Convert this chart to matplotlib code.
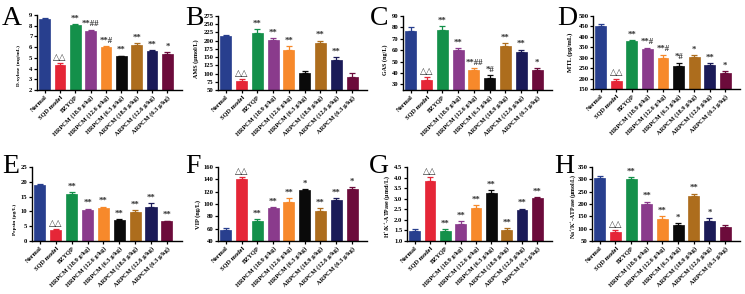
import matplotlib
matplotlib.use("Agg")
import matplotlib.pyplot as plt
import numpy as np

plt.rcParams["font.family"] = ["Liberation Serif", "DejaVu Sans"]
plt.rcParams["font.weight"] = "bold"
plt.rcParams["mathtext.fontset"] = "custom"
plt.rcParams["mathtext.rm"] = "Liberation Serif:bold"
plt.rcParams["mathtext.bf"] = "Liberation Serif:bold"

groups = ["Normal", "SQD model", "BZYQP", "HRPCM (18.9 g/kg)", "HRPCM (12.6 g/kg)",
          "HRPCM (6.3 g/kg)", "ARPCM (18.9 g/kg)", "ARPCM (12.6 g/kg)", "ARPCM (6.3 g/kg)"]
colors = ["#283f8e", "#e52637", "#14904a", "#8a3b8c", "#f7892b",
          "#0a0a0a", "#ad6d1d", "#1b1b58", "#6c0b3b"]

# values / errors / significance marks per panel
xylose = [8.6, 4.35, 8.05, 7.55, 6.05, 5.15, 6.2, 5.65, 5.35]
xylose_err = [0.1, 0.15, 0.1, 0.06, 0.05, 0.06, 0.15, 0.1, 0.15]
xylose_sig = ["", "△△", "**", "**##", "**#", "**", "**", "**", "*"]

ams = [213, 77, 223, 201, 173, 101, 193, 141, 90]
ams_err = [5, 5, 13, 7, 10, 6, 7, 10, 13]
ams_sig = ["", "△△", "**", "**", "**", "", "**", "**", ""]

gas = [76.5, 33.5, 77.5, 60, 43, 35.5, 63.5, 58.5, 43]
gas_err = [3.5, 2.5, 3.5, 1.5, 1, 2.5, 2.5, 2, 1]
gas_sig = ["", "△△", "**", "**", "**##", "*#", "**", "**", "*"]

mtl = [452, 190, 378, 343, 300, 262, 305, 265, 225]
mtl_err = [10, 10, 8, 5, 15, 15, 8, 8, 10]
mtl_sig = ["", "△△", "**", "**#", "**#", "*#", "*", "**", "*"]

pepsin = [19, 3.8, 16, 10.5, 11, 7.2, 9.8, 11.5, 6.6]
pepsin_err = [0.4, 0.2, 0.5, 0.4, 0.6, 0.3, 0.6, 1.2, 0.3]
pepsin_sig = ["", "△△", "**", "**", "**", "**", "**", "**", "**"]

vip = [58, 140, 73, 93, 104, 122, 88, 106, 124]
vip_err = [3, 3, 2, 2, 6, 2, 5, 3, 3]
vip_sig = ["", "△△", "**", "**", "**", "*", "**", "**", "*"]

hk = [1.47, 3.82, 1.47, 1.8, 2.57, 3.28, 1.52, 2.45, 3.02]
hk_err = [0.08, 0.2, 0.1, 0.13, 0.12, 0.12, 0.1, 0.08, 0.06]
hk_sig = ["", "△△", "**", "**", "**", "**", "**", "**", "**"]

nak = [305, 85, 300, 200, 138, 113, 232, 130, 107]
nak_err = [10, 8, 10, 10, 12, 8, 10, 12, 8]
nak_sig = ["", "△△", "**", "**", "**", "*", "**", "*", ""]

# letter, data, label, ylim, ticks, fmt, axes box px (l, r, t, b), letter px, label size, label center px (x, y)
panels = [
    ("A", xylose, xylose_err, xylose_sig, "D-xylose (mg/mL)", (2, 9), np.arange(2, 10, 1), "%d",
     (37, 182, 15, 90), (2, 25), 3.8, (19, 66)),
    ("B", ams, ams_err, ams_sig, "AMS (μmol/L)", (50, 275), np.arange(50, 276, 25), "%d",
     (218, 367, 16, 90), (185, 25), 4.4, (196, 59)),
    ("C", gas, gas_err, gas_sig, "GAS (ng/L)", (25, 90), np.arange(30, 91, 10), "%d",
     (403, 552, 16, 90), (370, 25), 4.4, (385, 60)),
    ("D", mtl, mtl_err, mtl_sig, "MTL (pg/mL)", (150, 500), np.arange(150, 501, 50), "%d",
     (593, 740, 16, 89), (557, 25), 4.8, (570, 52)),
    ("E", pepsin, pepsin_err, pepsin_sig, "Pepsin (μg/L)", (0, 25), np.arange(0, 26, 5), "%d",
     (32, 182, 167, 241), (2, 173), 3.9, (15, 219)),
    ("F", vip, vip_err, vip_sig, "VIP (ng/L)", (40, 160), np.arange(40, 161, 20), "%d",
     (218, 367, 167, 241), (185, 173), 4.6, (198, 214)),
    ("G", hk, hk_err, hk_sig, "H$^{+}$/K$^{+}$-ATPase (μmol/L)", (1.0, 4.5), np.arange(1.0, 4.51, 0.5), "%.1f",
     (407, 552, 167, 241), (369, 173), 4.2, (387, 207)),
    ("H", nak, nak_err, nak_sig, "Na$^{+}$/K$^{+}$-ATPase (μmol/L)", (50, 350), np.arange(50, 351, 50), "%d",
     (592, 740, 167, 241), (554, 173), 4.2, (573, 206)),
]

W, H = 745, 294
fig = plt.figure(figsize=(W / 100, H / 100), dpi=100)

x = np.arange(len(groups))
for letter, vals, errs, sig, ylabel, ylim, yticks, fmt, (l, r, t, b), (lx, ly), lsize, (ycx, ycy) in panels:
    ax = fig.add_axes([l / W, 1 - b / H, (r - l) / W, (b - t) / H])
    ax.bar(x, vals, width=0.7, color=colors, edgecolor=colors, linewidth=0.5, zorder=2)
    for xi, v, e, c in zip(x, vals, errs, colors):
        ax.errorbar(xi, v, yerr=[[0], [e]], fmt="none", ecolor=c, elinewidth=0.9,
                    capsize=2.2, capthick=0.9, zorder=1)
    span = ylim[1] - ylim[0]
    for xi, v, e, s in zip(x, vals, errs, sig):
        if s:
            ax.text(xi, v + e + span * 0.02, s, ha="center", va="bottom", fontsize=6.3,
                    color="#333333", fontweight="bold")
    ax.set_xlim(-0.5, 8.95)
    ax.set_ylim(*ylim)
    ax.set_yticks(yticks)
    ax.set_yticklabels([fmt % v for v in yticks], fontsize=4.8, fontweight="bold")
    ax.set_xticks(x)
    ax.set_xticklabels(groups, rotation=45, ha="right", rotation_mode="anchor",
                       fontsize=4.6, fontweight="bold")
    ax.set_ylabel(ylabel, fontsize=lsize, fontweight="bold", va="center")
    ax.yaxis.set_label_coords((ycx - l) / (r - l), (b - ycy) / (b - t))
    for sp in ["top", "right"]:
        ax.spines[sp].set_visible(False)
    for sp in ["left", "bottom"]:
        ax.spines[sp].set_linewidth(1.0)
    ax.tick_params(axis="both", length=2, width=0.9, pad=1.2)
    fig.text(lx / W, 1 - ly / H, letter, fontsize=20, fontweight="normal",
             ha="left", va="baseline", family="Liberation Serif")

fig.savefig("out.png", dpi=100)
